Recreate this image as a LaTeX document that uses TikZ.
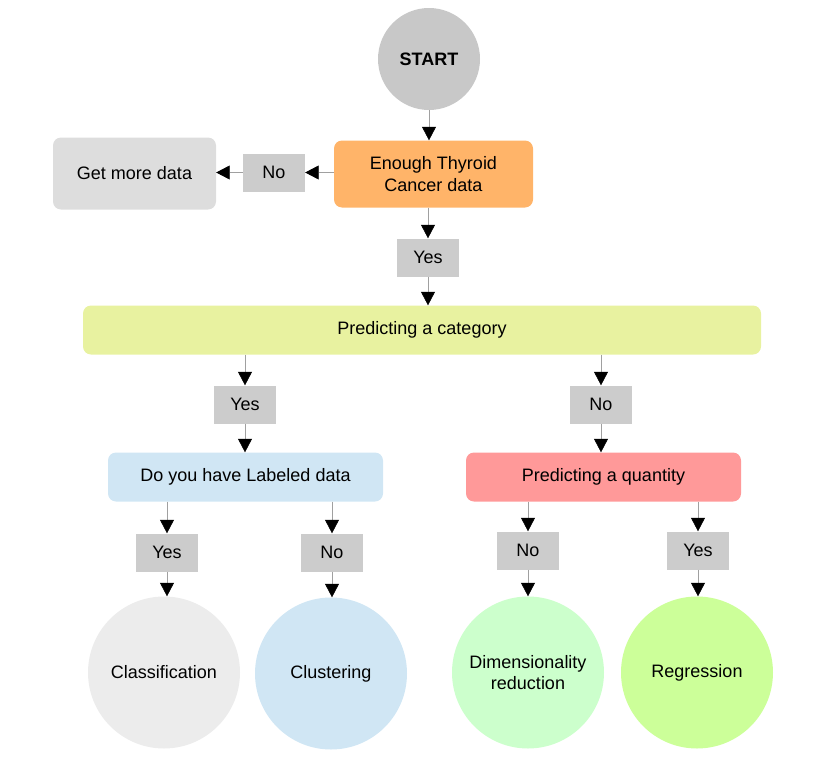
\documentclass[tikz,border=0pt]{standalone}
\usepackage{fontspec}
\setmainfont{Liberation Sans}
\usetikzlibrary{arrows.meta}
\definecolor{startc}{RGB}{200,200,200}
\definecolor{orangec}{RGB}{255,180,105}
\definecolor{labelc}{RGB}{204,204,204}
\definecolor{getc}{RGB}{221,221,221}
\definecolor{catc}{RGB}{232,242,160}
\definecolor{bluec}{RGB}{208,230,244}
\definecolor{pinkc}{RGB}{255,153,153}
\definecolor{classc}{RGB}{236,236,236}
\definecolor{dimc}{RGB}{204,255,204}
\definecolor{regc}{RGB}{204,255,153}
\definecolor{edgec}{RGB}{160,160,160}
\tikzset{
  txt/.style={font=\fontsize{18}{21.5}\selectfont},
  box/.style={txt, rectangle, rounded corners=8pt, draw=none, align=center, inner sep=0pt},
  lbl/.style={txt, rectangle, fill=labelc, draw=none, minimum width=62pt, minimum height=38pt, inner sep=0pt},
  circ/.style={txt, circle, draw=none, minimum size=152pt, inner sep=0pt, align=center},
  arr/.style={draw=edgec, line width=0.6pt, -{Triangle[length=13.5pt,width=14pt,color=black]}}
}
\begin{document}
\begin{tikzpicture}[x=1pt,y=-1pt]
\useasboundingbox (0,0) rectangle (831,763);
\node[circle, fill=startc, minimum size=102pt, inner sep=0pt, font=\bfseries\fontsize{18}{21.5}\selectfont] (start) at (429,59) {START};
\node[box, fill=orangec, minimum width=199pt, minimum height=67pt] (enough) at (433.5,174) {Enough Thyroid\\Cancer data};
\node[lbl] (no1) at (274,172.5) {No};
\node[box, fill=getc, minimum width=163pt, minimum height=72pt] (getmore) at (134.5,173.5) {Get more data};
\node[lbl] (yes1) at (428,257.5) {Yes};
\node[box, fill=catc, minimum width=678pt, minimum height=49pt] (cat) at (422,330) {Predicting a category};
\node[lbl] (yes2) at (245,404.5) {Yes};
\node[lbl] (no2) at (601,404.5) {No};
\node[box, fill=bluec, minimum width=275pt, minimum height=49pt] (labeled) at (245.5,477) {Do you have Labeled data};
\node[box, fill=pinkc, minimum width=275pt, minimum height=49pt] (quant) at (603.5,477) {Predicting a quantity};
\node[lbl] (yes3) at (167,552.5) {Yes};
\node[lbl] (no3) at (332,552.5) {No};
\node[lbl] (no4) at (528,550.5) {No};
\node[lbl] (yes4) at (698,550.5) {Yes};
\node[circ, fill=classc] (class) at (164,672.5) {Classification};
\node[circ, fill=bluec] (clust) at (331,673.5) {Clustering};
\node[circ, fill=dimc] (dim) at (528,672.5) {Dimensionality\\reduction};
\node[circ, fill=regc] (reg) at (697,672.5) {Regression};

\draw[arr] (start.south) -- (start.south |- enough.north);
\draw[arr] (enough.west |- no1) -- (no1.east);
\draw[arr] (no1.west) -- (getmore.east |- no1);
\draw[arr] (yes1 |- enough.south) -- (yes1.north);
\draw[arr] (yes1.south) -- (yes1 |- cat.north);
\draw[arr] (yes2 |- cat.south) -- (yes2.north);
\draw[arr] (no2 |- cat.south) -- (no2.north);
\draw[arr] (yes2.south) -- (yes2 |- labeled.north);
\draw[arr] (no2.south) -- (no2 |- quant.north);
\draw[arr] (yes3 |- labeled.south) -- (yes3.north);
\draw[arr] (no3 |- labeled.south) -- (no3.north);
\draw[arr] (no4 |- quant.south) -- (no4.north);
\draw[arr] (yes4 |- quant.south) -- (yes4.north);
\draw[arr] (yes3.south) -- (yes3 |- class.north);
\draw[arr] (no3.south) -- (no3 |- clust.north);
\draw[arr] (no4.south) -- (no4 |- dim.north);
\draw[arr] (yes4.south) -- (yes4 |- reg.north);
\end{tikzpicture}
\end{document}
